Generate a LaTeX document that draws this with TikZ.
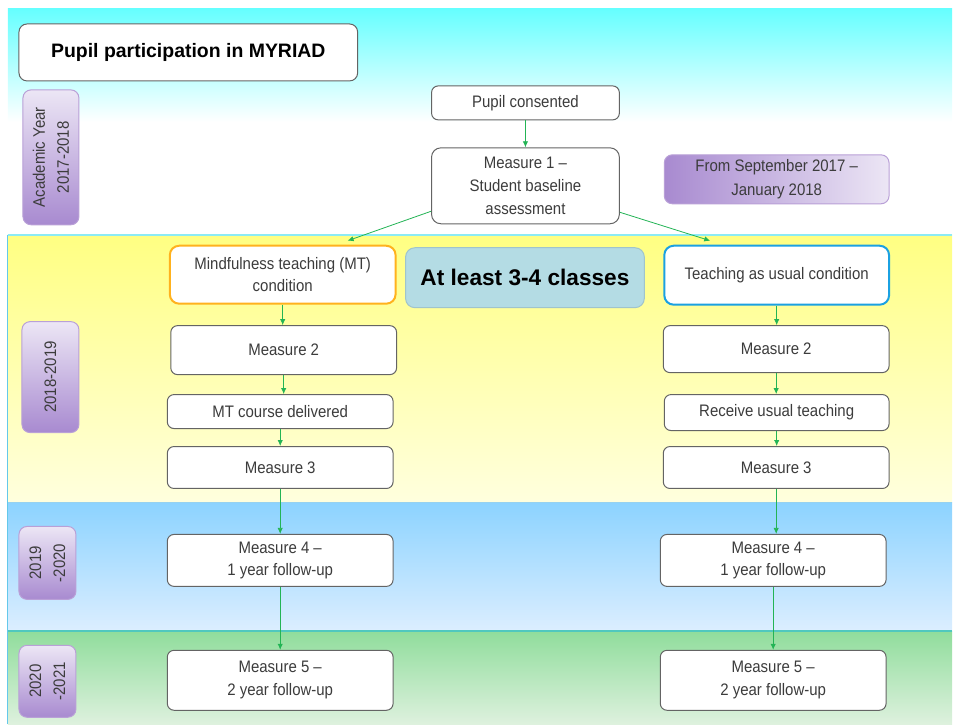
\documentclass[tikz,border=0pt]{standalone}
\usepackage{fontspec}
\setmainfont{Liberation Sans}
\newfontfamily\narrowfont{Liberation Sans}[FakeStretch=0.9,Ligatures=TeX]
\usetikzlibrary{arrows.meta}

\definecolor{boxline}{RGB}{100,100,100}
\definecolor{boxtext}{RGB}{60,60,60}
\definecolor{flowgreen}{RGB}{35,180,85}
\definecolor{purpdark}{RGB}{168,138,208}
\definecolor{purplight}{RGB}{236,230,245}
\definecolor{purpline}{RGB}{185,160,215}
\definecolor{mtorange}{RGB}{255,178,30}
\definecolor{taublue}{RGB}{27,161,226}
\definecolor{leastfill}{RGB}{180,220,228}

\tikzset{every picture/.style={line width=0.75pt}}
\tikzset{
  stepbox/.style={draw=boxline, fill=white, rounded corners=5pt, align=center,
    inner sep=0.75pt, minimum width=169.5pt, text=boxtext,
    font=\narrowfont\fontsize{12.5}{17}\selectfont},
  yearbox/.style={draw=purpline, left color=purpdark, right color=purplight,
    rounded corners=6pt, align=center, inner sep=0.75pt, text=boxtext,
    font=\narrowfont\fontsize{12.5}{18}\selectfont},
  yearbar/.style={yearbox, rotate=90, bottom color=purpdark, top color=purplight},
  flow/.style={draw=flowgreen, line width=0.6pt, -{Latex[length=4.5pt,width=4pt]}},
}

\begin{document}
\begin{tikzpicture}[x=0.75pt,y=0.75pt,yscale=-1,xscale=1]
\path (0,0) rectangle (953,725);
%Shape: Rectangle - top band
\fill [top color={rgb,255:red,102;green,255;blue,255}, bottom color=white] (8,9) rectangle (953,122);
\fill [white] (8,122) rectangle (953,235);
%Shape: Rectangle - yellow band
\fill [top color={rgb,255:red,255;green,255;blue,130}, bottom color={rgb,255:red,255;green,255;blue,222}] (8,235) rectangle (953,503);
%Shape: Rectangle - blue band
\fill [top color={rgb,255:red,140;green,211;blue,255}, bottom color={rgb,255:red,220;green,238;blue,255}] (8,503) rectangle (953,632);
%Shape: Rectangle - green band
\fill [top color={rgb,255:red,144;green,221;blue,156}, bottom color={rgb,255:red,222;green,241;blue,222}] (8,632) rectangle (953,725);
%Band edges
\draw [color={rgb,255:red,140;green,235;blue,245}, line width=1.5pt] (8,235) -- (953,235) ;
\draw [color={rgb,255:red,150;green,210;blue,240}, line width=1pt] (8,503) -- (953,503) ;
\draw [color={rgb,255:red,80;green,200;blue,190}, line width=1.5pt] (8,632) -- (953,632) ;
\draw [color={rgb,255:red,100;green,200;blue,235}] (8,235) -- (8,725) ;

% Text Node
\draw (188.5,52.5) node (title) [stepbox, text=black, minimum width=254.25pt, minimum height=42.75pt, rounded corners=6pt, font=\fontsize{14.6}{17}\selectfont\bfseries] {Pupil participation in MYRIAD};
% Text Node
\draw (51,157.5) node (yrone) [yearbar, minimum width=101.25pt, minimum height=42pt] {Academic Year\\2017-2018};
% Text Node
\draw (526,103) node (consent) [stepbox, minimum width=141pt, minimum height=25.5pt] {Pupil consented};
% Text Node
\draw (526,186) node (mone) [stepbox, minimum width=141pt, minimum height=57pt, rounded corners=7pt] {Measure 1 \textendash\\Student baseline\\assessment};
% Text Node
\draw (777.5,179.5) node (from) [yearbox, minimum width=168.75pt, minimum height=36.75pt] {From September 2017 \textendash\\January 2018};

% Text Node
\draw (283,275) node (mt) [stepbox, draw=mtorange, line width=1.5pt, minimum height=43.5pt, rounded corners=7pt] {Mindfulness teaching (MT)\\condition};
% Text Node
\draw (525.5,278) node (least) [draw={rgb,255:red,160;green,196;blue,204}, fill=leastfill, rounded corners=7pt, minimum width=179.25pt, minimum height=45pt, inner sep=0.75pt, font=\fontsize{17}{20}\selectfont\bfseries] {At least 3-4 classes};
% Text Node
\draw (777.5,275.5) node (tau) [stepbox, draw=taublue, line width=1.5pt, minimum width=168.75pt, minimum height=44.25pt, rounded corners=7pt] {Teaching as usual condition};

% Text Node
\draw (50.5,377.5) node (yrtwo) [yearbar, minimum width=83.25pt, minimum height=42.75pt] {2018-2019};
% Text Node
\draw (284,350.5) node (mtwol) [stepbox, minimum height=36.75pt] {Measure 2};
% Text Node
\draw (280.5,412) node (course) [stepbox, minimum height=25.5pt] {MT course delivered};
% Text Node
\draw (280.5,468) node (mthreel) [stepbox, minimum height=31.5pt] {Measure 3};
% Text Node
\draw (777,349.5) node (mtwor) [stepbox, minimum height=35.25pt] {Measure 2};
% Text Node
\draw (777.5,413) node (usual) [stepbox, minimum width=168.75pt, minimum height=27pt] {Receive usual teaching};
% Text Node
\draw (777,468) node (mthreer) [stepbox, minimum height=31.5pt] {Measure 3};

% Text Node
\draw (47.5,563.5) node (yrthree) [yearbar, minimum width=54.75pt, minimum height=42.75pt] {2019\\-2020};
% Text Node
\draw (280.5,561) node (mfourl) [stepbox, minimum height=39pt] {Measure 4 \textendash\\1 year follow-up};
% Text Node
\draw (774,561) node (mfourr) [stepbox, minimum height=39pt] {Measure 4 \textendash\\1 year follow-up};

% Text Node
\draw (47.5,682) node (yrfour) [yearbar, minimum width=54pt, minimum height=42.75pt] {2020\\-2021};
% Text Node
\draw (280.5,681) node (mfivel) [stepbox, minimum height=45pt] {Measure 5 \textendash\\2 year follow-up};
% Text Node
\draw (774,681) node (mfiver) [stepbox, minimum height=45pt] {Measure 5 \textendash\\2 year follow-up};

%Straight Lines with arrows
\draw [flow] (consent) -- (mone) ;
\draw [flow] ([yshift=-9.75pt]mone.south west) -- ([xshift=48.75pt,yshift=-3pt]mt.north) ;
\draw [flow] ([yshift=-9pt]mone.south east) -- ([xshift=-49.9pt,yshift=-3pt]tau.north) ;
\draw [flow] (mt) -- (mt |- mtwol.north) ;
\draw [flow] (mtwol) -- (mtwol |- course.north) ;
\draw [flow] (course) -- (mthreel) ;
\draw [flow] (mthreel) -- (mfourl) ;
\draw [flow] (mfourl) -- (mfivel) ;
\draw [flow] (tau) -- (tau |- mtwor.north) ;
\draw [flow] (mtwor) -- (mtwor |- usual.north) ;
\draw [flow] (usual) -- (usual |- mthreer.north) ;
\draw [flow] (mthreer) -- (mthreer |- mfourr.north) ;
\draw [flow] (mfourr) -- (mfiver) ;
\end{tikzpicture}
\end{document}
